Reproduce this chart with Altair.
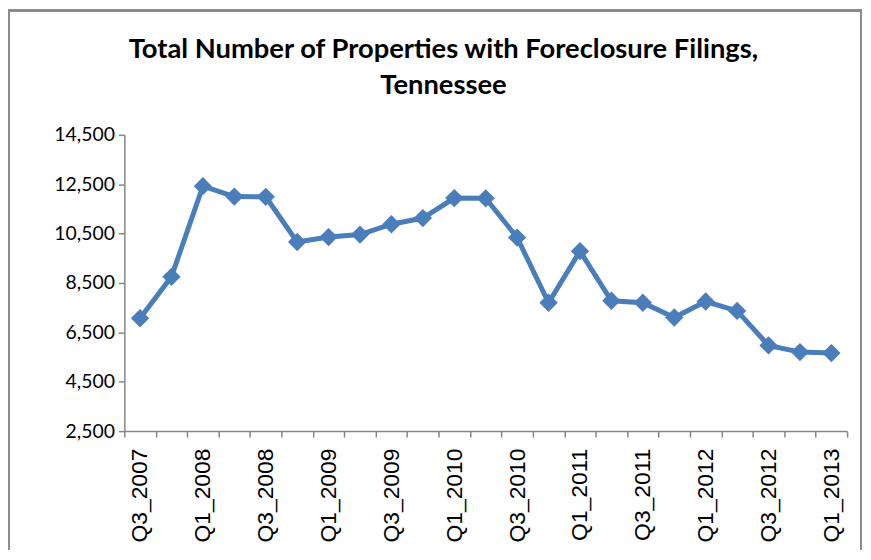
import altair as alt
import pandas as pd

quarters = [
    "Q3_2007", "Q4_2007", "Q1_2008", "Q2_2008", "Q3_2008", "Q4_2008",
    "Q1_2009", "Q2_2009", "Q3_2009", "Q4_2009", "Q1_2010", "Q2_2010",
    "Q3_2010", "Q4_2010", "Q1_2011", "Q2_2011", "Q3_2011", "Q4_2011",
    "Q1_2012", "Q2_2012", "Q3_2012", "Q4_2012", "Q1_2013",
]
filings = [
    7070, 8750, 12420, 12000, 11990, 10160,
    10360, 10460, 10880, 11130, 11940, 11930,
    10340, 7700, 9790, 7780, 7700, 7100,
    7750, 7370, 5970, 5700, 5660,
]
y_ticks = [2500, 4500, 6500, 8500, 10500, 12500, 14500]
title_lines = ["Total Number of Properties with Foreclosure Filings,", "Tennessee"]

df = pd.DataFrame({"quarter": quarters, "filings": filings})

BLUE = "#4A7EBB"
AXIS_GRAY = "#868686"

x_enc = alt.X(
    "quarter:N",
    sort=quarters,
    bandPosition=0.5,
    scale=alt.Scale(type="band", paddingInner=0, paddingOuter=0),
    axis=alt.Axis(
        title=None,
        labelAngle=-90,
        labelFont="Liberation Sans",
        labelFontSize=23,
        labelColor="#000000",
        labelPadding=11,
        labelOverlap=False,
        labelExpr="(substring(datum.value,0,2)=='Q1' || substring(datum.value,0,2)=='Q3') ? datum.value : ''",
        tickBand="extent",
        tickSize=6,
        tickColor=AXIS_GRAY,
        tickWidth=1.5,
        domainColor=AXIS_GRAY,
        domainWidth=1.5,
        grid=False,
    ),
)
y_enc = alt.Y(
    "filings:Q",
    scale=alt.Scale(domain=[2500, 14500], nice=False, zero=False),
    axis=alt.Axis(
        title=None,
        values=y_ticks,
        format=",.0f",
        labelFont="Lato",
        labelFontSize=19.5,
        labelColor="#000000",
        labelPadding=4,
        tickSize=6,
        tickColor=AXIS_GRAY,
        tickWidth=1.5,
        domainColor=AXIS_GRAY,
        domainWidth=1.5,
        grid=False,
    ),
)

line = alt.Chart(df).mark_line(color=BLUE, strokeWidth=5).encode(x=x_enc, y=y_enc)
points = alt.Chart(df).mark_point(
    shape="diamond", filled=True, size=340, color=BLUE, opacity=1
).encode(x=x_enc, y=y_enc)

border = alt.Chart(df).mark_rect(
    filled=False, stroke="#8c8c8c", strokeWidth=1.5, clip=False
).encode(
    x=alt.value(-116), x2=alt.value(741), y=alt.value(-125), y2=alt.value(700)
)

title_style = dict(font="Lato", fontSize=27.5, fontWeight="bold", color="#000000",
                   align="center", baseline="alphabetic")
title1 = alt.Chart(pd.DataFrame({"t": [title_lines[0]]})).mark_text(**title_style).encode(
    text="t:N", x=alt.value(321), y=alt.value(-77)
)
title2 = alt.Chart(pd.DataFrame({"t": [title_lines[1]]})).mark_text(**title_style).encode(
    text="t:N", x=alt.value(321), y=alt.value(-41)
)

chart = (
    alt.layer(border, line, points, title1, title2)
    .properties(
        width=727,
        height=298,
        autosize=alt.AutoSizeParams(type="none"),
        padding={"left": 117, "top": 126, "right": 16, "bottom": 118},
    )
    .configure_view(stroke=None)
)

chart.save("out.html", embed_options={"renderer": "svg", "actions": False})
